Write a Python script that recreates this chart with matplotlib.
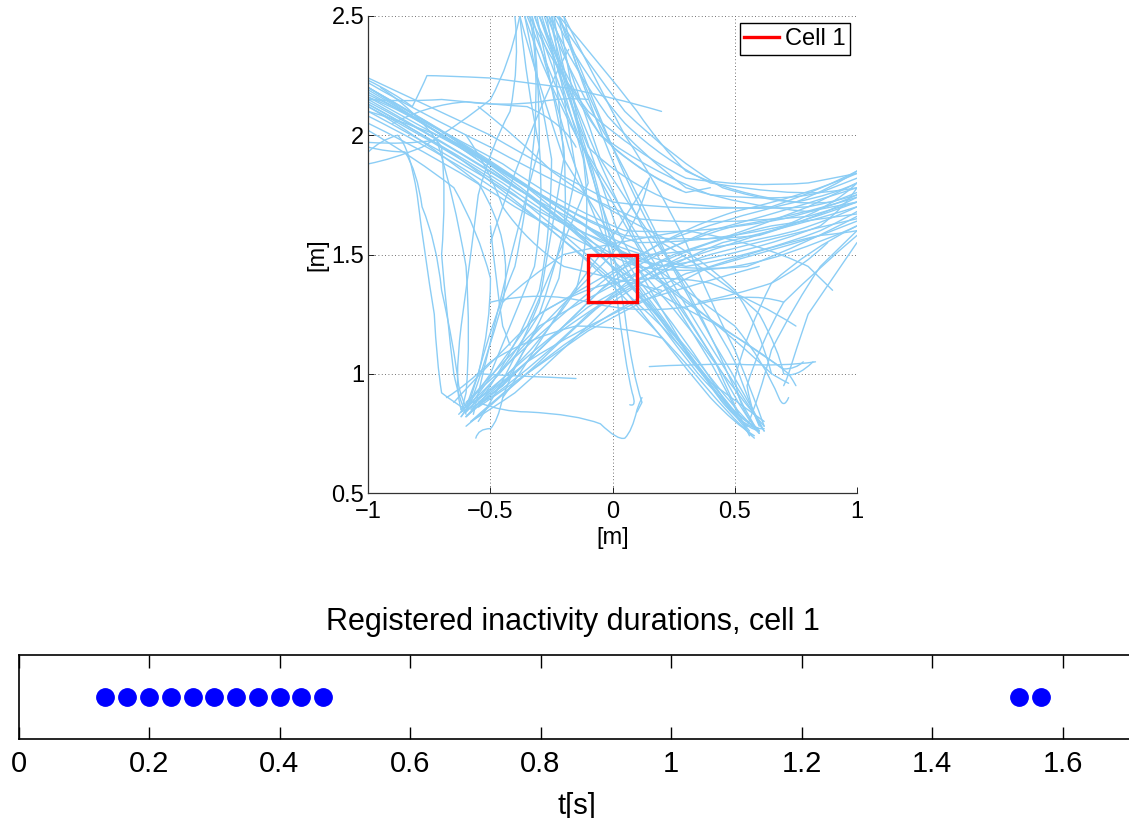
import matplotlib
matplotlib.use("Agg")
import matplotlib.pyplot as plt
from matplotlib.path import Path
from matplotlib.patches import PathPatch

plt.rcParams['font.family'] = ['Liberation Sans', 'DejaVu Sans']

# ---------------- data ----------------
# trajectories (x [m], y [m]) grouped by the arms they connect.
# Each list is the control polygon of a smooth path.
traj_ul_to_right = [
    [(-1, 2.20), (-0.7, 2.02), (-0.4, 1.82), (-0.15, 1.65), (0.1, 1.55), (0.4, 1.55), (0.7, 1.62), (0.9, 1.7), (1, 1.80)],
    [(-1, 2.17), (-0.75, 2.05), (-0.45, 1.88), (-0.2, 1.70), (0.05, 1.60), (0.35, 1.58), (0.7, 1.65), (0.9, 1.7), (1, 1.75)],
    [(-1, 2.14), (-0.7, 1.98), (-0.4, 1.78), (-0.1, 1.60), (0.15, 1.50), (0.45, 1.52), (0.75, 1.60), (0.9, 1.65), (1, 1.70)],
    [(-1, 2.22), (-0.8, 2.10), (-0.5, 1.95), (-0.2, 1.78), (0.1, 1.65), (0.4, 1.62), (0.8, 1.66), (0.9, 1.69), (1, 1.72)],
    [(-1, 2.10), (-0.6, 1.88), (-0.3, 1.68), (0.0, 1.52), (0.3, 1.45), (0.6, 1.50), (0.85, 1.60), (0.95, 1.65), (1, 1.68)],
    [(-1, 2.19), (-0.65, 1.98), (-0.35, 1.75), (-0.1, 1.55), (0.2, 1.45), (0.55, 1.50), (0.85, 1.62), (0.95, 1.7), (1, 1.78)],
    [(-1, 2.05), (-0.7, 1.90), (-0.4, 1.70), (-0.15, 1.55), (0.1, 1.45), (0.4, 1.40), (0.7, 1.50), (0.9, 1.57), (1, 1.62)],
    [(-1, 2.24), (-0.75, 2.12), (-0.5, 2.00), (-0.25, 1.85), (0.0, 1.72), (0.3, 1.68), (0.65, 1.70), (0.85, 1.77), (1, 1.85)],
    [(-1, 2.16), (-0.72, 2.0), (-0.45, 1.85), (-0.2, 1.68), (0.05, 1.58), (0.3, 1.55), (0.6, 1.58), (0.85, 1.66), (1, 1.74)],
    [(-1, 2.13), (-0.7, 1.96), (-0.45, 1.80), (-0.2, 1.62), (0.0, 1.50), (0.25, 1.42), (0.55, 1.45), (0.8, 1.55), (1, 1.66)],
]
traj_ul_to_lr = [
    [(-1, 2.15), (-0.6, 1.92), (-0.3, 1.72), (-0.05, 1.50), (0.15, 1.30), (0.3, 1.10), (0.45, 0.88), (0.55, 0.76), (0.62, 0.77)],
    [(-1, 2.20), (-0.7, 2.00), (-0.35, 1.78), (-0.1, 1.58), (0.1, 1.38), (0.25, 1.18), (0.42, 0.92), (0.52, 0.78), (0.6, 0.76)],
    [(-1, 2.12), (-0.65, 1.93), (-0.4, 1.75), (-0.15, 1.55), (0.05, 1.35), (0.22, 1.12), (0.4, 0.90), (0.5, 0.79), (0.58, 0.74)],
    [(-1, 2.08), (-0.55, 1.85), (-0.25, 1.60), (0.0, 1.40), (0.2, 1.20), (0.38, 1.00), (0.5, 0.84), (0.55, 0.79), (0.6, 0.77)],
    [(-1, 2.18), (-0.6, 1.95), (-0.3, 1.75), (0.0, 1.55), (0.25, 1.35), (0.5, 1.15), (0.65, 1.00), (0.7, 0.97), (0.72, 0.96)],
    [(-1, 2.20), (-0.6, 1.97), (-0.25, 1.72), (0.05, 1.50), (0.3, 1.30), (0.55, 1.12), (0.7, 1.02), (0.75, 1.02), (0.78, 1.05)],
    [(-0.55, 2.12), (-0.4, 2.0), (-0.25, 1.85), (-0.05, 1.7), (0.15, 1.6), (0.35, 1.5), (0.5, 1.35), (0.6, 1.2), (0.65, 1.0)],
]
traj_ul_to_ll = [
    [(-1, 1.93), (-0.95, 1.98), (-0.88, 2.0), (-0.83, 1.95), (-0.8, 1.75), (-0.77, 1.5), (-0.73, 1.25), (-0.72, 1.05), (-0.7, 0.92), (-0.65, 0.88), (-0.6, 0.85)],
    [(-1, 1.97), (-0.85, 1.96), (-0.72, 1.98), (-0.65, 1.75), (-0.6, 1.45), (-0.58, 1.15), (-0.6, 0.92), (-0.61, 0.88), (-0.62, 0.84)],
    [(-1, 2.12), (-0.8, 2.0), (-0.55, 1.80), (-0.4, 1.55), (-0.45, 1.30), (-0.52, 1.05), (-0.58, 0.88), (-0.6, 0.85), (-0.62, 0.82)],
    [(-1, 1.95), (-0.92, 1.93), (-0.85, 1.93), (-0.8, 1.85), (-0.78, 1.7), (-0.72, 1.55), (-0.7, 1.35), (-0.65, 1.12), (-0.63, 0.95), (-0.62, 0.9), (-0.6, 0.86)],
    [(-1, 2.02), (-0.8, 1.9), (-0.65, 1.78), (-0.55, 1.6), (-0.5, 1.4), (-0.5, 1.2), (-0.55, 1.0), (-0.58, 0.9), (-0.6, 0.84)],
    [(-0.95, 2.2), (-0.8, 2.1), (-0.7, 1.95), (-0.68, 1.75), (-0.7, 1.5), (-0.68, 1.25), (-0.65, 1.0), (-0.63, 0.9), (-0.6, 0.83)],
]
traj_top_to_lr = [
    [(-0.38, 2.5), (-0.3, 2.2), (-0.2, 1.90), (-0.05, 1.65), (0.1, 1.40), (0.3, 1.15), (0.45, 0.90), (0.5, 0.82), (0.55, 0.78)],
    [(-0.35, 2.5), (-0.25, 2.25), (-0.15, 2.0), (0.0, 1.75), (0.15, 1.50), (0.3, 1.25), (0.45, 1.0), (0.55, 0.80), (0.6, 0.76)],
    [(-0.30, 2.5), (-0.22, 2.3), (-0.12, 2.05), (-0.02, 1.80), (0.1, 1.55), (0.25, 1.30), (0.4, 1.05), (0.47, 0.92), (0.52, 0.82)],
    [(-0.28, 2.5), (-0.2, 2.25), (-0.12, 1.95), (-0.05, 1.70), (0.05, 1.45), (0.2, 1.20), (0.38, 0.98), (0.55, 0.85), (0.62, 0.80)],
    [(-0.33, 2.5), (-0.25, 2.2), (-0.18, 1.95), (-0.1, 1.70), (0.02, 1.45), (0.18, 1.22), (0.35, 1.0), (0.5, 0.83), (0.58, 0.78)],
    [(-0.25, 2.5), (-0.15, 2.2), (-0.05, 1.9), (0.1, 1.65), (0.25, 1.45), (0.4, 1.25), (0.5, 1.05), (0.55, 0.9), (0.6, 0.78)],
    [(-0.22, 2.5), (-0.12, 2.2), (0.0, 1.95), (0.12, 1.72), (0.22, 1.5), (0.35, 1.28), (0.45, 1.05), (0.52, 0.88), (0.6, 0.75)],
    [(-0.20, 2.5), (-0.08, 2.25), (0.05, 2.0), (0.18, 1.8), (0.3, 1.55), (0.4, 1.3), (0.5, 1.1), (0.58, 0.9), (0.62, 0.78)],
    [(-0.36, 2.5), (-0.28, 2.25), (-0.15, 2.0), (-0.02, 1.75), (0.12, 1.5), (0.28, 1.28), (0.42, 1.05), (0.5, 0.86), (0.56, 0.74)],
]
traj_top_to_right = [
    [(-0.30, 2.5), (-0.2, 2.2), (-0.1, 1.95), (0.05, 1.80), (0.25, 1.72), (0.5, 1.68), (0.8, 1.70), (0.9, 1.72), (1, 1.75)],
    [(-0.27, 2.5), (-0.15, 2.2), (0.0, 1.95), (0.15, 1.82), (0.3, 1.76), (0.35, 1.77), (0.4, 1.78)],
    [(-0.32, 2.5), (-0.22, 2.25), (-0.05, 2.0), (0.15, 1.85), (0.4, 1.75), (0.7, 1.72), (0.85, 1.76), (0.95, 1.8), (1, 1.82)],
    [(-0.24, 2.5), (-0.12, 2.25), (0.05, 2.05), (0.2, 1.90), (0.4, 1.80), (0.7, 1.75), (0.85, 1.76), (0.95, 1.77), (1, 1.78)],
    [(-0.26, 2.5), (-0.16, 2.28), (-0.02, 2.08), (0.12, 1.92), (0.3, 1.78), (0.55, 1.70), (0.8, 1.68), (0.9, 1.7), (1, 1.72)],
    [(-0.23, 2.5), (-0.1, 2.3), (0.05, 2.1), (0.25, 1.9), (0.45, 1.78), (0.7, 1.70), (0.9, 1.72), (0.95, 1.74), (1, 1.76)],
    [(-0.34, 2.5), (-0.25, 2.3), (-0.1, 2.1), (0.1, 1.92), (0.3, 1.82), (0.55, 1.78), (0.8, 1.80), (0.9, 1.82), (1, 1.84)],
    [(-0.30, 2.5), (-0.2, 2.25), (-0.05, 2.0), (0.1, 1.85), (0.28, 1.77)],
    [(-0.22, 2.5), (-0.05, 2.3), (0.1, 2.1), (0.2, 1.95), (0.3, 1.85), (0.5, 1.75), (0.75, 1.72), (0.9, 1.75), (1, 1.8)],
]
traj_top_to_ll = [
    [(-0.36, 2.5), (-0.3, 2.2), (-0.25, 1.90), (-0.25, 1.60), (-0.3, 1.35), (-0.4, 1.10), (-0.52, 0.92), (-0.56, 0.88), (-0.6, 0.84)],
    [(-0.31, 2.5), (-0.26, 2.25), (-0.2, 1.95), (-0.18, 1.65), (-0.22, 1.40), (-0.32, 1.15), (-0.45, 0.95), (-0.52, 0.9), (-0.58, 0.85)],
    [(-0.34, 2.5), (-0.3, 2.3), (-0.32, 2.0), (-0.35, 1.70), (-0.4, 1.45), (-0.5, 1.20), (-0.55, 1.0), (-0.58, 0.92), (-0.6, 0.86)],
    [(-0.29, 2.5), (-0.2, 2.2), (-0.12, 1.9), (-0.08, 1.60), (-0.15, 1.35), (-0.3, 1.12), (-0.45, 0.98), (-0.52, 0.92), (-0.57, 0.88)],
    [(-0.40, 2.5), (-0.38, 2.3), (-0.42, 2.1), (-0.5, 1.95), (-0.55, 1.75), (-0.58, 1.5), (-0.62, 1.2), (-0.65, 0.95), (-0.62, 0.85)],
    [(-0.38, 2.5), (-0.35, 2.2), (-0.3, 1.95), (-0.28, 1.7), (-0.32, 1.45), (-0.42, 1.2), (-0.5, 1.0), (-0.58, 0.88), (-0.63, 0.83)],
]
traj_top_to_bottom = [
    [(-0.32, 2.5), (-0.22, 2.2), (-0.1, 1.90), (-0.02, 1.60), (0.02, 1.30), (0.05, 1.05), (0.08, 0.92), (0.1, 0.86), (0.07, 0.87)],
    [(-0.26, 2.5), (-0.18, 2.15), (-0.08, 1.85), (0.0, 1.55), (0.05, 1.25), (0.08, 1.0), (0.12, 0.88), (0.11, 0.86), (0.1, 0.84)],
    [(-0.5, 1.55), (-0.42, 1.8), (-0.32, 2.05), (-0.24, 2.25), (-0.18, 2.36)],
]
traj_ll_to_right = [
    [(-0.6, 0.82), (-0.45, 0.95), (-0.25, 1.15), (-0.05, 1.30), (0.2, 1.45), (0.5, 1.55), (0.8, 1.65), (0.9, 1.68), (1, 1.72)],
    [(-0.62, 0.85), (-0.5, 1.0), (-0.3, 1.20), (-0.05, 1.35), (0.25, 1.50), (0.55, 1.60), (0.8, 1.70), (0.9, 1.75), (1, 1.80)],
    [(-0.58, 0.80), (-0.42, 0.95), (-0.2, 1.12), (0.05, 1.30), (0.3, 1.42), (0.6, 1.50), (0.85, 1.58), (0.95, 1.62), (1, 1.64)],
    [(-0.65, 0.88), (-0.5, 1.05), (-0.3, 1.25), (-0.05, 1.40), (0.2, 1.55), (0.45, 1.65), (0.75, 1.72), (0.9, 1.78), (1, 1.85)],
    [(-0.55, 0.86), (-0.35, 1.0), (-0.1, 1.18), (0.15, 1.32), (0.4, 1.45), (0.7, 1.55), (0.85, 1.58), (0.95, 1.59), (1, 1.60)],
    [(-0.6, 0.78), (-0.48, 0.88), (-0.3, 1.05), (-0.1, 1.25), (0.1, 1.42), (0.35, 1.55), (0.65, 1.62), (0.85, 1.65), (1, 1.67)],
]
traj_ll_to_top = [
    [(-0.6, 0.84), (-0.45, 1.0), (-0.3, 1.25), (-0.2, 1.55), (-0.15, 1.85), (-0.2, 2.15), (-0.25, 2.5)],
    [(-0.62, 0.82), (-0.5, 0.98), (-0.35, 1.20), (-0.22, 1.50), (-0.1, 1.80), (-0.15, 2.10), (-0.22, 2.5)],
    [(-0.55, 0.80), (-0.42, 1.0), (-0.3, 1.30), (-0.25, 1.60), (-0.2, 1.90), (-0.22, 2.20), (-0.27, 2.5)],
    [(-0.57, 0.83), (-0.52, 1.05), (-0.45, 1.35), (-0.38, 1.65), (-0.3, 1.95), (-0.3, 2.25), (-0.33, 2.5)],
    [(-0.6, 0.86), (-0.5, 0.95), (-0.38, 1.1), (-0.2, 1.3), (-0.05, 1.45), (0.1, 1.6), (0.15, 1.82)],
]
traj_lr_to_ul = [
    [(0.6, 0.75), (0.5, 0.85), (0.35, 1.05), (0.15, 1.30), (-0.1, 1.55), (-0.4, 1.80), (-0.7, 2.0), (-0.85, 2.1), (-1, 2.16)],
    [(0.56, 0.76), (0.45, 0.90), (0.3, 1.10), (0.1, 1.35), (-0.15, 1.60), (-0.45, 1.85), (-0.75, 2.05), (-0.9, 2.14), (-1, 2.20)],
    [(0.62, 0.78), (0.52, 0.90), (0.38, 1.10), (0.2, 1.35), (0.0, 1.55), (-0.3, 1.75), (-0.6, 1.95), (-0.8, 2.04), (-1, 2.10)],
    [(0.58, 0.73), (0.48, 0.82), (0.32, 1.02), (0.12, 1.25), (-0.08, 1.45), (-0.35, 1.70), (-0.65, 1.92), (-0.85, 2.05), (-1, 2.13)],
]
traj_lr_to_top = [
    [(0.57, 0.74), (0.45, 0.88), (0.3, 1.10), (0.15, 1.35), (0.02, 1.60), (-0.08, 1.90), (-0.18, 2.2), (-0.22, 2.35), (-0.24, 2.5)],
    [(0.6, 0.80), (0.5, 0.95), (0.35, 1.20), (0.2, 1.45), (0.08, 1.70), (-0.05, 2.0), (-0.15, 2.3), (-0.18, 2.4), (-0.2, 2.5)],
    [(0.62, 0.76), (0.55, 0.9), (0.42, 1.12), (0.28, 1.38), (0.15, 1.62), (0.02, 1.88), (-0.1, 2.2), (-0.17, 2.38), (-0.22, 2.5)],
]
traj_right_to_ll = [
    [(1, 1.78), (0.7, 1.68), (0.4, 1.60), (0.15, 1.50), (-0.05, 1.35), (-0.25, 1.15), (-0.45, 0.95), (-0.55, 0.87), (-0.6, 0.82)],
    [(1, 1.70), (0.75, 1.62), (0.45, 1.55), (0.2, 1.45), (0.0, 1.30), (-0.2, 1.10), (-0.4, 0.92), (-0.5, 0.85), (-0.58, 0.80)],
    [(1, 1.65), (0.7, 1.58), (0.4, 1.50), (0.1, 1.40), (-0.1, 1.25), (-0.3, 1.05), (-0.5, 0.90), (-0.57, 0.86), (-0.62, 0.84)],
    [(1, 1.84), (0.8, 1.75), (0.5, 1.68), (0.25, 1.60), (0.05, 1.45), (-0.15, 1.25), (-0.35, 1.05), (-0.45, 0.96), (-0.55, 0.88)],
    [(1, 1.74), (0.75, 1.66), (0.5, 1.62), (0.25, 1.55), (0.0, 1.42), (-0.25, 1.22), (-0.45, 1.02), (-0.55, 0.93), (-0.6, 0.88)],
    [(0.3, 1.5), (0.1, 1.4), (-0.1, 1.28), (-0.3, 1.12), (-0.45, 0.98), (-0.55, 0.88), (-0.6, 0.82)],
    [(0.6, 1.45), (0.35, 1.38), (0.1, 1.3), (-0.15, 1.18), (-0.35, 1.05), (-0.5, 0.92), (-0.62, 0.85)],
]
traj_right_to_lr = [
    [(1, 1.62), (0.8, 1.52), (0.65, 1.38), (0.55, 1.18), (0.5, 0.98), (0.52, 0.84), (0.6, 0.76)],
    [(1, 1.58), (0.85, 1.45), (0.7, 1.3), (0.6, 1.12), (0.55, 0.95), (0.57, 0.82), (0.62, 0.76)],
    [(1, 1.55), (0.9, 1.4), (0.8, 1.25), (0.75, 1.1), (0.72, 1.0), (0.71, 0.97), (0.7, 0.95)],
    [(0.55, 0.78), (0.6, 0.9), (0.65, 1.1), (0.75, 1.3), (0.85, 1.45), (0.95, 1.55), (1, 1.6)],
]
traj_misc = [
    [(0.83, 1.05), (0.7, 1.03), (0.5, 1.04), (0.3, 1.04), (0.15, 1.03)],
    [(0.0, 1.45), (0.2, 1.32), (0.4, 1.22), (0.6, 1.1), (0.72, 1.0), (0.74, 0.97), (0.75, 0.95)],
    [(-0.55, 0.88), (-0.45, 0.84), (-0.35, 0.84), (-0.15, 0.83), (-0.05, 0.79), (0.02, 0.72), (0.05, 0.73), (0.08, 0.76), (0.1, 0.85), (0.11, 0.88), (0.12, 0.9)],
    [(-0.55, 1.0), (-0.4, 0.99), (-0.25, 0.985), (-0.2, 0.982), (-0.15, 0.98)],
    [(-1, 2.23), (-0.9, 2.18), (-0.82, 2.12), (-0.78, 2.2), (-0.76, 2.25), (-0.7, 2.25), (-0.5, 2.24), (-0.35, 2.22), (-0.2, 2.2), (0.0, 2.16), (0.2, 2.1)],
    [(-0.9, 2.05), (-0.75, 2.13), (-0.6, 2.14), (-0.45, 2.12), (-0.3, 2.14), (-0.2, 2.16), (-0.1, 2.15)],
    [(-1, 2.15), (-0.85, 2.14), (-0.7, 2.15), (-0.5, 2.13), (-0.35, 2.12), (-0.2, 2.05), (-0.15, 1.95)],
    [(-0.5, 1.3), (-0.3, 1.35), (-0.1, 1.30), (0.1, 1.25), (0.3, 1.28), (0.55, 1.35), (0.7, 1.30)],
    [(-0.45, 1.3), (-0.35, 1.4), (-0.2, 1.50), (0.0, 1.55), (0.3, 1.60), (0.6, 1.55), (0.8, 1.45), (0.85, 1.4), (0.9, 1.35)],
    [(-0.68, 0.90), (-0.6, 0.95), (-0.5, 1.05), (-0.35, 1.15), (-0.15, 1.20), (0.05, 1.20), (0.2, 1.15)],
    [(-0.5, 1.62), (-0.48, 1.4), (-0.45, 1.2), (-0.43, 1.15), (-0.42, 1.12)],
    [(0.1, 1.50), (0.3, 1.35), (0.5, 1.20), (0.62, 1.05), (0.68, 0.90), (0.7, 0.85), (0.72, 0.9)],
    [(0.2, 1.55), (0.45, 1.40), (0.6, 1.25), (0.68, 1.1), (0.7, 1.0), (0.75, 0.98), (0.82, 1.05)],
    [(0.35, 1.30), (0.5, 1.33), (0.65, 1.38), (0.78, 1.45), (0.88, 1.55)],
    [(-0.3, 1.25), (-0.15, 1.35), (0.0, 1.38), (0.2, 1.42), (0.4, 1.38), (0.6, 1.30), (0.75, 1.2)],
    [(-0.38, 2.5), (-0.42, 2.3), (-0.5, 2.15), (-0.62, 2.05), (-0.78, 1.95), (-0.9, 1.9), (-1, 1.88)],
    [(-0.56, 0.73), (-0.55, 0.77), (-0.5, 0.77), (-0.47, 0.8), (-0.45, 0.9), (-0.4, 1.05), (-0.3, 1.2)],
    [(0.15, 1.82), (0.05, 1.65), (-0.05, 1.5), (-0.2, 1.3), (-0.35, 1.05), (-0.4, 0.97), (-0.45, 0.9)],
    [(-0.6, 2.0), (-0.5, 1.85), (-0.45, 1.7), (-0.35, 1.55), (-0.2, 1.45), (0.0, 1.4), (0.2, 1.35)],
]
traj_groups = [traj_ul_to_right, traj_ul_to_lr, traj_ul_to_ll, traj_top_to_lr, traj_top_to_right,
               traj_top_to_ll, traj_top_to_bottom, traj_ll_to_right, traj_ll_to_top, traj_lr_to_ul,
               traj_lr_to_top, traj_right_to_ll, traj_right_to_lr, traj_misc]

cell_x = [-0.1, 0.1, 0.1, -0.1, -0.1]
cell_y = [1.3, 1.3, 1.5, 1.5, 1.3]
cell_label = "Cell 1"

durations = [0.133, 0.167, 0.200, 0.233, 0.267, 0.300, 0.333, 0.367, 0.400, 0.433, 0.467, 1.533, 1.567]
top_xticks = [-1, -0.5, 0, 0.5, 1]
top_xticklabels = ["\u22121", "\u22120.5", "0", "0.5", "1"]
top_yticks = [0.5, 1, 1.5, 2, 2.5]
top_yticklabels = ["0.5", "1", "1.5", "2", "2.5"]
bottom_xticks = [0, 0.2, 0.4, 0.6, 0.8, 1.0, 1.2, 1.4, 1.6]
bottom_xticklabels = ["0", "0.2", "0.4", "0.6", "0.8", "1", "1.2", "1.4", "1.6"]

# ---------------- figure ----------------
W, H = 1129, 818
fig = plt.figure(figsize=(W / 100, H / 100), dpi=100)


def fx(px):
    return px / W


def fy(py):
    return 1 - py / H


def smooth_path(pts):
    """Control polygon -> path made of quadratic Bezier pieces."""
    verts = [pts[0]]
    codes = [Path.MOVETO]
    i = 1
    while i + 1 < len(pts):
        verts += [pts[i], pts[i + 1]]
        codes += [Path.CURVE3, Path.CURVE3]
        i += 2
    if i < len(pts):
        verts.append(pts[i])
        codes.append(Path.LINETO)
    return Path(verts, codes)


# top: trajectories
ax1 = fig.add_axes([fx(368.3), fy(493), fx(857) - fx(368.3), fy(16) - fy(493)])
traj_color = '#8BCDF5'
for group in traj_groups:
    for tr in group:
        ax1.add_patch(PathPatch(smooth_path(tr), facecolor='none', edgecolor=traj_color,
                                lw=1.0, zorder=2, joinstyle='round', capstyle='round'))
ax1.plot(cell_x, cell_y, color='#FF0000', lw=2.4, label=cell_label, zorder=3,
         solid_joinstyle='miter')
ax1.set_xlim(-1, 1)
ax1.set_ylim(0.5, 2.5)
ax1.set_xticks(top_xticks)
ax1.set_xticklabels(top_xticklabels)
ax1.set_yticks(top_yticks)
ax1.set_yticklabels(top_yticklabels)
ax1.grid(True, color='#444444', linestyle=(0, (1, 3)), lw=0.6)
ax1.tick_params(direction='in', length=4, width=0.6, labelsize=17,
                top=False, right=False)
ax1.tick_params(axis='x', pad=6)
ax1.tick_params(axis='y', pad=3)
for s in ['top', 'right']:
    ax1.spines[s].set_visible(False)
for s in ['left', 'bottom']:
    ax1.spines[s].set_linewidth(0.9)
    ax1.spines[s].set_color('#333333')
ax1.set_xlabel("[m]", fontsize=17, labelpad=2.5)
ax1.set_ylabel("[m]", fontsize=17, labelpad=2)
leg = ax1.legend(loc='upper right', fontsize=17, handlelength=1.45, handletextpad=0.25,
                 borderpad=0.2, borderaxespad=0.3, fancybox=False, framealpha=1)
leg.get_frame().set_edgecolor('black')
leg.get_frame().set_linewidth(1.0)

# bottom: durations
x0 = 18.5
ppu = 652.5
xmax = 1.75
ax2 = fig.add_axes([fx(x0), fy(739.3), xmax * ppu / W, fy(655) - fy(739.3)])
ax2.plot(durations, [0] * len(durations), 'o', color='#0000FF', ms=12.5, mec='#0000FF')
ax2.set_xlim(0, xmax)
ax2.set_ylim(-1, 1)
ax2.set_yticks([])
ax2.set_xticks(bottom_xticks)
ax2.set_xticklabels(bottom_xticklabels)
ax2.tick_params(axis='x', direction='in', length=9, width=1, labelsize=21, pad=8,
                top=True, bottom=True)
for s in ax2.spines.values():
    s.set_linewidth(1.2)
ax2.set_xlabel("t[s]", fontsize=21, labelpad=0)
ax2.xaxis.set_label_coords((577 - x0) / (xmax * ppu), -0.62)
fig.text(fx(573), fy(622), "Registered inactivity durations, cell 1", fontsize=22,
         ha='center', va='center')

fig.savefig("out.png", dpi=100)
